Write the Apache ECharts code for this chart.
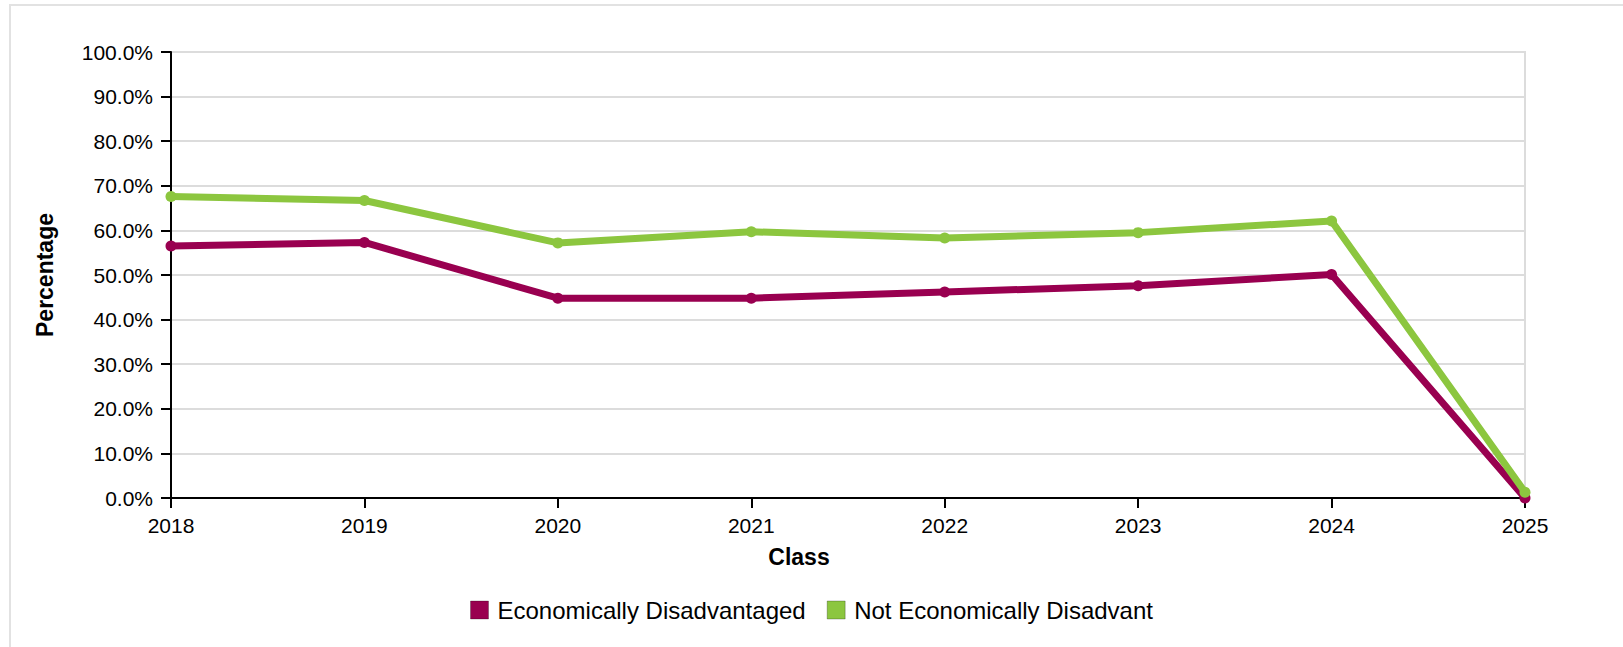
<!DOCTYPE html>
<html>
<head>
<meta charset="utf-8">
<script src="https://cdn.jsdelivr.net/npm/echarts@6/dist/echarts.min.js"></script>
<style>
  html, body { margin: 0; padding: 0; background: #fff; }
  #chart { width: 1623px; height: 647px; }
</style>
</head>
<body>
<div id="chart"></div>
<script>
const categories = ['2018', '2019', '2020', '2021', '2022', '2023', '2024', '2025'];
const seriesNames = ['Economically Disadvantaged', 'Not Economically Disadvant'];
const econDisadvantaged = [56.5, 57.3, 44.8, 44.8, 46.2, 47.6, 50.1, 0.0];
const notEconDisadvantaged = [67.6, 66.7, 57.2, 59.7, 58.3, 59.5, 62.1, 1.3];
const colors = ['#990050', '#8cc63f'];
const yAxisTitle = 'Percentage';
const xAxisTitle = 'Class';

const FONT = '"Liberation Sans", Arial, Helvetica, sans-serif';
const chart = echarts.init(document.getElementById('chart'), null, { renderer: 'svg' });

chart.setOption({
  animation: false,
  color: colors,
  textStyle: { fontFamily: FONT },
  graphic: [
    {
      type: 'rect', silent: true, z: -10,
      shape: { x: 10, y: 5, width: 1700, height: 800 },
      style: { fill: 'none', stroke: '#e2e2e2', lineWidth: 2 }
    },
    {
      type: 'text', silent: true,
      x: 799, y: 557,
      style: {
        text: xAxisTitle, fill: '#000', font: 'bold 23px ' + FONT,
        textAlign: 'center', textVerticalAlign: 'middle'
      }
    }
  ],
  grid: {
    left: 171, right: 98, top: 52, bottom: 149,
    show: true, borderColor: '#dcdcdc', borderWidth: 2, backgroundColor: 'transparent'
  },
  legend: {
    left: 465, top: 593,
    icon: 'rect', itemWidth: 18, itemHeight: 18, itemGap: 21,
    itemStyle: { borderColor: 'rgba(0,0,0,0.25)', borderWidth: 1 },
    textStyle: { fontSize: 24, color: '#000', fontFamily: FONT, padding: [0, 0, 0, 4] },
    data: seriesNames
  },
  xAxis: {
    type: 'category',
    data: categories,
    boundaryGap: false,
    axisLine: { show: true, lineStyle: { color: '#000', width: 2 } },
    axisTick: { show: true, length: 10, lineStyle: { color: '#000', width: 2 } },
    axisLabel: { color: '#000', fontSize: 21, margin: 17, fontFamily: FONT },
    splitLine: { show: false }
  },
  yAxis: {
    type: 'value',
    min: 0, max: 100, interval: 10,
    name: yAxisTitle,
    nameLocation: 'middle',
    nameGap: 115,
    nameRotate: 90,
    nameTextStyle: { color: '#000', fontSize: 23, fontWeight: 'bold', fontFamily: FONT },
    axisLine: { show: true, lineStyle: { color: '#000', width: 2 } },
    axisTick: { show: true, length: 10, lineStyle: { color: '#000', width: 2 } },
    axisLabel: {
      color: '#000', fontSize: 21, margin: 18, fontFamily: FONT,
      formatter: v => v.toFixed(1) + '%'
    },
    splitLine: { show: true, lineStyle: { color: '#dcdcdc', width: 2 } }
  },
  series: [
    {
      name: seriesNames[0], type: 'line', data: econDisadvantaged,
      symbol: 'circle', symbolSize: 11, lineStyle: { width: 7 },
      itemStyle: { color: colors[0] }
    },
    {
      name: seriesNames[1], type: 'line', data: notEconDisadvantaged,
      symbol: 'circle', symbolSize: 11, lineStyle: { width: 7 },
      itemStyle: { color: colors[1] }
    }
  ]
});
</script>
</body>
</html>
